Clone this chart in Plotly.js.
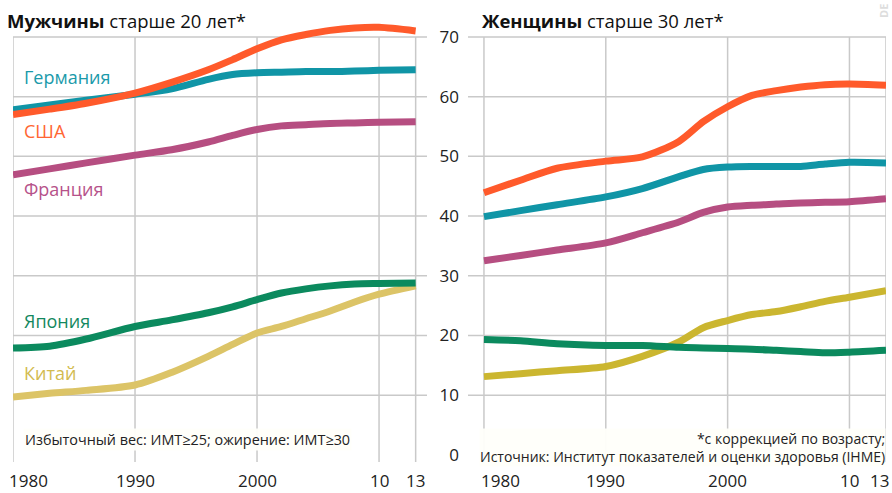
<!DOCTYPE html>
<html>
<head>
<meta charset="utf-8">
<script src="https://cdn.plot.ly/plotly-3.0.1.min.js"></script>
<style>html,body{margin:0;padding:0;background:#fff;}#chart{width:892px;height:493px;}</style>
</head>
<body>
<div id="chart"></div>
<script>
const years = [1980, 1983, 1986, 1990, 1993, 1996, 1998, 2000, 2002, 2004, 2006, 2008, 2010, 2013];

// Men, 20+ (overweight share, %)
const menUSA     = [57.0, 57.9, 58.9, 60.6, 62.4, 64.5, 66.2, 68.0, 69.5, 70.4, 71.1, 71.5, 71.6, 71.0];
const menGermany = [57.8, 58.6, 59.4, 60.4, 61.3, 62.9, 63.7, 64.0, 64.1, 64.2, 64.2, 64.3, 64.4, 64.5];
const menFrance  = [46.9, 47.9, 48.9, 50.2, 51.1, 52.4, 53.5, 54.5, 55.1, 55.3, 55.5, 55.6, 55.7, 55.8];
const menJapan   = [17.9, 18.2, 19.4, 21.5, 22.6, 23.8, 24.8, 26.0, 27.1, 27.8, 28.3, 28.6, 28.7, 28.8];
const menChina   = [9.7, 10.3, 10.8, 11.7, 13.8, 16.5, 18.5, 20.4, 21.5, 22.8, 24.1, 25.6, 26.9, 28.3];

// Women, 30+ (obesity share, %)
const womUSA     = [43.9, 46.0, 48.0, 49.2, 49.9, 52.5, 55.8, 58.3, 60.2, 61.0, 61.6, 62.0, 62.1, 61.9];
const womGermany = [39.9, 40.9, 41.9, 43.2, 44.6, 46.6, 47.8, 48.2, 48.3, 48.3, 48.3, 48.7, 49.0, 48.9];
const womFrance  = [32.5, 33.4, 34.3, 35.5, 37.2, 39.0, 40.6, 41.5, 41.8, 42.0, 42.2, 42.3, 42.4, 42.9];
const womJapan   = [19.3, 19.1, 18.6, 18.3, 18.3, 18.0, 17.9, 17.8, 17.7, 17.5, 17.3, 17.1, 17.2, 17.5];
const womChina   = [13.1, 13.6, 14.1, 14.8, 16.5, 18.9, 21.3, 22.5, 23.5, 24.0, 24.8, 25.7, 26.4, 27.5];

const xTickVals = [1980, 1990, 2000, 2010, 2013];
const xTickText = ['1980', '1990', '2000', '10', '13'];
const yGridVals = [10, 20, 30, 40, 50, 60, 70];
const yTickVals = [0, 10, 20, 30, 40, 50, 60, 70];

const C = {
  usa: '#FF5A2B', ger: '#1095A6', fra: '#B64E81', jap: '#0B8A5E', chiM: '#DCC467', chiW: '#CBB630', grid: '#C9C9C9'
};
const FONT = 'Open Sans, Noto Sans, sans-serif';

function line(x, y, color, xa, ya) {
  return {x: x, y: y, type: 'scatter', mode: 'lines', xaxis: xa, yaxis: ya,
    line: {color: color, width: 7, shape: 'spline', smoothing: 0.8}, hoverinfo: 'skip'};
}

const traces = [
  line(years, menChina, C.chiM, 'x', 'y'),
  line(years, menJapan, C.jap, 'x', 'y'),
  line(years, menFrance, C.fra, 'x', 'y'),
  line(years, menGermany, C.ger, 'x', 'y'),
  line(years, menUSA, C.usa, 'x', 'y'),
  line(years, womChina, C.chiW, 'x2', 'y2'),
  line(years, womJapan, C.jap, 'x2', 'y2'),
  line(years, womFrance, C.fra, 'x2', 'y2'),
  line(years, womGermany, C.ger, 'x2', 'y2'),
  line(years, womUSA, C.usa, 'x2', 'y2')
];

const shapes = [];
// vertical gridlines from -1.2 up to 70
xTickVals.forEach(v => {
  [['x', 'y'], ['x2', 'y2']].forEach(([xr, yr]) => {
    shapes.push({type: 'line', xref: xr, yref: yr, x0: v, x1: v, y0: -1.2, y1: 70,
      line: {color: C.grid, width: 1.5}, layer: 'below'});
  });
});
// horizontal gridlines (none at 0)
yGridVals.forEach(v => {
  [['x domain', 'y'], ['x2 domain', 'y2']].forEach(([xr, yr]) => {
    shapes.push({type: 'line', xref: xr, yref: yr, x0: 0, x1: 1, y0: v, y1: v,
      line: {color: C.grid, width: 1.5}, layer: 'below'});
  });
});

const yRange = [-1.2, 72.5];
const commonX = {
  tickvals: xTickVals, showticklabels: false, showgrid: false, zeroline: false, showline: false,
  ticks: '', fixedrange: true
};

function lbl(text, x, y, color, xr, yr) {
  return {text: text, x: x, y: y, xref: xr, yref: yr, xanchor: 'left', yanchor: 'middle',
    showarrow: false, font: {family: FONT, size: 18, color: color}};
}

const annotations = [
  {text: '<b>Мужчины</b> старше 20 лет*', xref: 'paper', yref: 'paper', x: 5 / 892, xanchor: 'left',
    y: 1.004, yanchor: 'middle', showarrow: false, font: {family: FONT, size: 18.5, color: '#111'}},
  {text: '<b>Женщины</b> старше 30 лет*', xref: 'paper', yref: 'paper', x: 480 / 892, xanchor: 'left',
    y: 1.004, yanchor: 'middle', showarrow: false, font: {family: FONT, size: 18.5, color: '#111'}},
  lbl('Германия', 1980.75, 63.3, '#1A9AAA', 'x', 'y'),
  lbl('США', 1980.75, 54.3, '#FF6633', 'x', 'y'),
  lbl('Франция', 1980.75, 44.6, '#B6528A', 'x', 'y'),
  lbl('Япония', 1980.75, 22.4, '#13885E', 'x', 'y'),
  lbl('Китай', 1980.75, 13.7, '#D2BB50', 'x', 'y'),
  {text: 'Избыточный вес: ИМТ≥25; ожирение: ИМТ≥30', x: 1980.85, y: 2.5, xref: 'x', yref: 'y',
    xanchor: 'left', yanchor: 'middle', showarrow: false, bgcolor: 'rgba(255,255,250,0.95)',
    font: {family: FONT, size: 14.4, color: '#222'}},
  {text: '*с коррекцией по возрасту;<br>Источник: Институт показателей и оценки здоровья (IHME)',
    x: 2013, y: 1.3, xref: 'x2', yref: 'y2', xanchor: 'right', yanchor: 'middle', align: 'right',
    showarrow: false, bgcolor: 'rgba(255,255,250,0.95)', borderpad: 0,
    font: {family: FONT, size: 14, color: '#222'}},
  {text: '<b>DE</b>', xref: 'paper', yref: 'paper', x: 884 / 892, y: 1 + (22 - 20) / 440,
    xanchor: 'center', yanchor: 'bottom', textangle: -90, showarrow: false,
    font: {family: FONT, size: 11, color: '#DDDDDD'}}
];

// x tick labels (panel edges nudged inward as in the original)
const leftShift = [15, 0, 0, 0, 0];
const rightShift = [17, 0, 0, 0, -7];
xTickVals.forEach((v, i) => {
  annotations.push({text: xTickText[i], x: v, xref: 'x', yref: 'paper', y: -0.043, yanchor: 'middle',
    xanchor: 'center', xshift: leftShift[i], showarrow: false, borderpad: 0,
    font: {family: FONT, size: 17, color: '#222'}});
  annotations.push({text: xTickText[i], x: v, xref: 'x2', yref: 'paper', y: -0.043, yanchor: 'middle',
    xanchor: 'center', xshift: rightShift[i], showarrow: false, borderpad: 0,
    font: {family: FONT, size: 17, color: '#222'}});
});

const layout = {
  width: 892, height: 493,
  margin: {l: 0, r: 0, t: 22, b: 31, pad: 0},
  paper_bgcolor: '#fff', plot_bgcolor: 'rgba(0,0,0,0)',
  showlegend: false,
  xaxis: Object.assign({}, commonX, {domain: [13 / 892, 427 / 892], range: [1980, 2013.93], anchor: 'y'}),
  xaxis2: Object.assign({}, commonX, {domain: [468 / 892, 886 / 892], range: [1978.69, 2013], anchor: 'y2'}),
  yaxis: {range: yRange, anchor: 'x', showgrid: false, zeroline: false, showline: false, ticks: '',
    showticklabels: false, fixedrange: true},
  yaxis2: {range: yRange, anchor: 'x2', side: 'left', tickvals: yTickVals,
    showgrid: false, zeroline: false, showline: false, ticks: '', ticklabelstandoff: 8,
    tickfont: {family: FONT, size: 17, color: '#222'}, fixedrange: true},
  shapes: shapes,
  annotations: annotations
};

Plotly.newPlot('chart', traces, layout, {staticPlot: true, displayModeBar: false});
</script>
</body>
</html>
